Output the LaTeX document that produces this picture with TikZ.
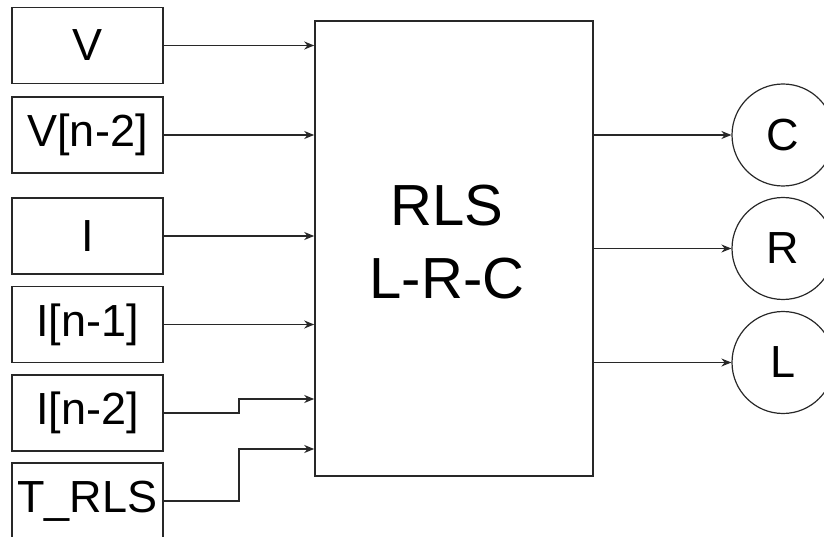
\documentclass[tikz,border=0pt]{standalone}
\usepackage{fontspec}
\setmainfont{Liberation Sans}
\usetikzlibrary{arrows.meta}
\definecolor{lineclr}{RGB}{40,40,40}
\begin{document}
\begin{tikzpicture}[x=1pt,y=-1pt,
  inbox/.style={draw=lineclr, line width=1.6pt, minimum width=151pt, minimum height=76pt, inner sep=0pt, font=\fontsize{45}{54}\selectfont},
  outc/.style={circle, draw=lineclr, line width=1.2pt, minimum size=102pt, inner sep=0pt, font=\fontsize{45}{54}\selectfont},
  mainbox/.style={draw=lineclr, line width=1.6pt, minimum width=278pt, minimum height=455pt, inner sep=0pt},
  bigtext/.style={align=center, inner sep=0pt, font=\fontsize{58}{73}\selectfont},
  conn/.style={draw=lineclr, line width=1.6pt, -{Stealth[length=10pt,width=8pt]}}
]
\useasboundingbox (0,0) rectangle (824,537);
\clip (0,0) rectangle (824,537);
% inputs
\node[inbox] (v)    at (87.5,45.5)  {V};
\node[inbox] (vn2)  at (87.5,135)   {V[n-2]};
\node[inbox] (i)    at (87.5,236)   {I};
\node[inbox] (in1)  at (87.5,324.5) {I[n-1]};
\node[inbox] (in2)  at (87.5,413)   {I[n-2]};
\node[inbox] (trls) at (87.5,501)   {T\_RLS};
% main block
\node[mainbox] (rls) at (454,248.5) {};
\node[bigtext] (rlstext) at ([xshift=-7pt,yshift=6.5pt]rls.center) {RLS\\L-R-C};
% outputs
\node[outc] (c) at (783,135)   {C};
\node[outc] (r) at (783,248.5) {R};
\node[outc] (l) at (783,362.5) {L};
% input connectors
\draw[conn] (v.east)   -- (v.east -| rls.west);
\draw[conn] (vn2.east) -- (vn2.east -| rls.west);
\draw[conn] (i.east)   -- (i.east -| rls.west);
\draw[conn] (in1.east) -- (in1.east -| rls.west);
\coordinate (k1) at (239,399);
\coordinate (k2) at (239,449);
\draw[conn] (in2.east) -| (k1) -- (k1 -| rls.west);
\draw[conn] (trls.east) -| (k2) -- (k2 -| rls.west);
% output connectors
\draw[conn] (c.west -| rls.east) -- (c.west);
\draw[conn] (r.west -| rls.east) -- (r.west);
\draw[conn] (l.west -| rls.east) -- (l.west);
\end{tikzpicture}
\end{document}
